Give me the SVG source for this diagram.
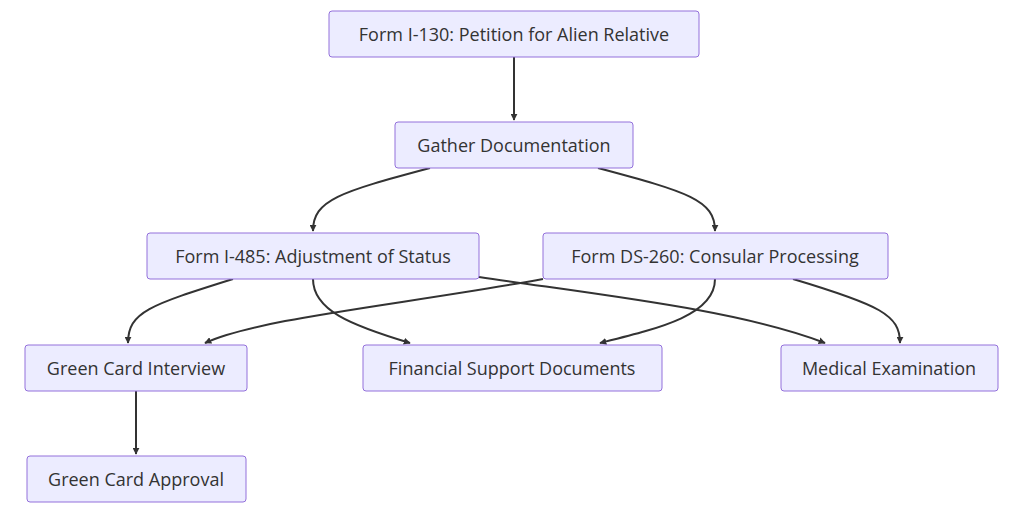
<svg xmlns="http://www.w3.org/2000/svg" width="1024" height="513" viewBox="0 0 1024 513">
<style>
.n rect{fill:#ECECFF;stroke:#9370DB;stroke-width:1}
.n text{font-family:"Open Sans",sans-serif;font-size:18px;fill:#333;text-anchor:middle;dominant-baseline:central}
.e path{fill:none;stroke:#333;stroke-width:2;marker-end:url(#a)}
</style>
<defs><marker id="a" viewBox="0 0 10 10" refX="9" refY="5" markerWidth="7" markerHeight="7" orient="auto" markerUnits="userSpaceOnUse"><path d="M0,0L10,5L0,10z" fill="#333"/></marker></defs>
<rect width="1024" height="513" fill="#fff"/>
<g class="e">
<path d="M514,57L514,120"/>
<path d="M430,168C340,192 313,200 313,231"/>
<path d="M598,168C688,192 715,200 715,231"/>
<path d="M233,279C150,305 128,312 128,343"/>
<path d="M313,279C313,310 350,325 410,343"/>
<path d="M479,277C600,295 740,310 825,343"/>
<path d="M543,279C400,305 260,318 205,343"/>
<path d="M715,279C715,315 660,328 600,343"/>
<path d="M793,279C880,305 900,315 900,343"/>
<path d="M136,391L136,454"/>
</g>
<g class="n" id="n1"><rect x="329" y="11" width="370" height="46" rx="3"/><text x="514" y="34">Form I-130: Petition for Alien Relative</text></g>
<g class="n" id="n2"><rect x="395" y="122" width="238" height="46" rx="3"/><text x="514" y="145">Gather Documentation</text></g>
<g class="n" id="n3"><rect x="147" y="233" width="332" height="46" rx="3"/><text x="313" y="256">Form I-485: Adjustment of Status</text></g>
<g class="n" id="n4"><rect x="543" y="233" width="345" height="46" rx="3"/><text x="715" y="256">Form DS-260: Consular Processing</text></g>
<g class="n" id="n5"><rect x="25" y="345" width="222" height="46" rx="3"/><text x="136" y="368">Green Card Interview</text></g>
<g class="n" id="n6"><rect x="363" y="345" width="299" height="46" rx="3"/><text x="512" y="368">Financial Support Documents</text></g>
<g class="n" id="n7"><rect x="781" y="345" width="217" height="46" rx="3"/><text x="889" y="368">Medical Examination</text></g>
<g class="n" id="n8"><rect x="27" y="456" width="219" height="46" rx="3"/><text x="136" y="479">Green Card Approval</text></g>
</svg>
